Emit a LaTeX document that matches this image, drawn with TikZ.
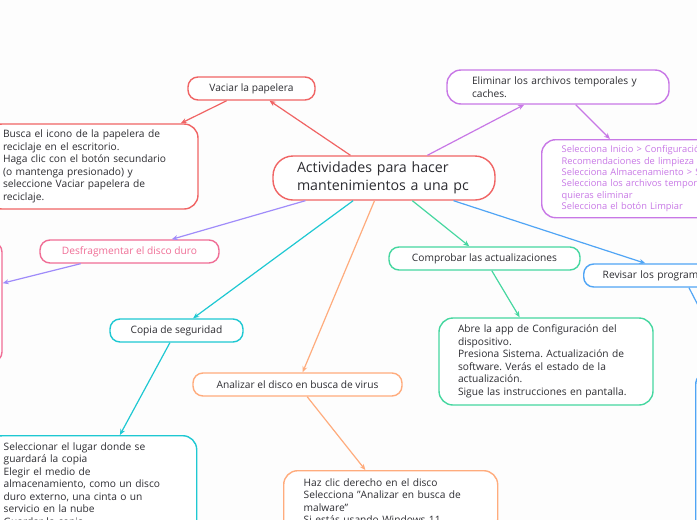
\documentclass[tikz,border=0pt]{standalone}
\usepackage{fontspec}
\setmainfont{Open Sans}
\usetikzlibrary{arrows.meta,calc}
\frenchspacing

\definecolor{fondo}{RGB}{253,253,253}
\definecolor{texto}{RGB}{45,45,50}
\definecolor{rojo}{RGB}{240,100,100}
\definecolor{morado}{RGB}{200,120,230}
\definecolor{lila}{RGB}{160,140,250}
\definecolor{rosa}{RGB}{240,110,150}
\definecolor{cian}{RGB}{30,200,210}
\definecolor{naranja}{RGB}{255,172,125}
\definecolor{verde}{RGB}{70,215,160}
\definecolor{azul}{RGB}{80,165,245}

\begin{document}
\begin{tikzpicture}[x=1pt,y=-1pt,
	caja/.style={draw, line width=1.4pt, rounded corners=10pt, fill=white, text=texto, font=\fontsize{10.2}{12.5}\selectfont},
	flecha/.style={line width=1.2pt, -{Stealth[length=6pt,width=5pt]}}]
	
	
	% Rahmen / Hintergrund
	\useasboundingbox (0,0) rectangle (697,520);
	\fill[fondo] (0,0) rectangle (697,520);
	\clip (0,0) rectangle (697,520);
	
	
	% Tema central
	\node[caja, draw=rojo, rounded corners=20pt, text width=174pt, inner xsep=24pt, minimum height=44pt, align=left, font=\fontsize{14.2}{18}\selectfont] (central) at (384,178) {Actividades para hacer\\mantenimientos a una pc};
	
	% Vaciar la papelera
	\node[caja, draw=rojo, minimum width=127pt, minimum height=23pt] (vaciar) at (251.5,88.5) {Vaciar la papelera};
	\node[caja, draw=rojo, rounded corners=14pt, text width=180pt, inner xsep=15pt, minimum height=85pt, align=left] (busca) at (93,166.5) {Busca el icono de la papelera de\\reciclaje en el escritorio.\\Haga clic con el botón secundario\\(o mantenga presionado) y\\seleccione Vaciar papelera de\\reciclaje.};
	
	% Archivos temporales
	\node[caja, draw=morado, rounded corners=14pt, text width=172pt, inner xsep=25pt, minimum height=34pt, align=left] (eliminar) at (558,87) {Eliminar los archivos temporales y\\caches.};
	\node[caja, draw=morado, text=morado, rounded corners=14pt, text width=240pt, inner xsep=20pt, minimum height=78pt, align=left, anchor=north west, font=\fontsize{9.3}{11.3}\selectfont] (selecciona) at (541,139) {Selecciona Inicio > Configuración > Sistema >\\Recomendaciones de limpieza\\Selecciona Almacenamiento > Sistema\\Selecciona los archivos temporales que\\quieras eliminar\\Selecciona el botón Limpiar};
	
	% Desfragmentar
	\node[caja, draw=rosa, text=rosa, minimum width=179pt, minimum height=23pt] (desfrag) at (129.5,251.5) {Desfragmentar el disco duro};
	\node[caja, draw=rosa, minimum width=150pt, minimum height=120pt] (desfragdet) at (-73,302) {};
	
	% Copia de seguridad
	\node[caja, draw=cian, minimum width=133pt, minimum height=23pt] (copia) at (176.5,330.5) {Copia de seguridad};
	\node[caja, draw=cian, rounded corners=14pt, text width=178pt, inner xsep=15pt, inner ysep=7pt, align=left, anchor=north west] (seleccionar) at (-12,435) {Seleccionar el lugar donde se\\guardará la copia\\Elegir el medio de\\almacenamiento, como un disco\\duro externo, una cinta o un\\servicio en la nube\\Guardar la copia};
	
	% Virus
	\node[caja, draw=naranja, minimum width=209pt, minimum height=23pt] (analizar) at (297.5,384.5) {Analizar el disco en busca de virus};
	\node[caja, draw=naranja, rounded corners=14pt, text width=174pt, inner xsep=20pt, inner ysep=8pt, align=left, anchor=north west] (haz) at (283,470) {Haz clic derecho en el disco\\Selecciona "Analizar en busca de\\malware"\\Si estás usando Windows 11,};
	
	% Actualizaciones
	\node[caja, draw=verde, minimum width=191pt, minimum height=23pt] (comprobar) at (484.5,258.5) {Comprobar las actualizaciones};
	\node[caja, draw=verde, rounded corners=14pt, text width=176pt, inner xsep=19pt, minimum height=87pt, align=left] (abre) at (546,361.5) {Abre la app de Configuración del\\dispositivo.\\Presiona Sistema. Actualización de\\software. Verás el estado de la\\actualización.\\Sigue las instrucciones en pantalla.};
	
	% Programas
	\node[caja, draw=azul, text width=160pt, inner xsep=19pt, minimum height=23pt, align=left, anchor=west] (revisar) at (583,275.5) {Revisar los programas};
	\node[caja, draw=azul, rounded corners=14pt, minimum width=200pt, minimum height=250pt, anchor=north west] (revisardet) at (695,370) {};
	
	
	% Verbindungen
	\draw[flecha, rojo] (central) -- (vaciar);
	\draw[flecha, rojo] (vaciar) -- (busca);
	\draw[flecha, morado] (central) -- (eliminar);
	\draw[flecha, morado] (eliminar) -- ($(selecciona.north west)!0.245!(selecciona.north east)$);
	\draw[flecha, lila] (central) -- (desfrag);
	\draw[flecha, lila] (desfrag) -- (desfragdet);
	\draw[flecha, cian] (central) -- (copia);
	\draw[flecha, cian] (copia) -- (seleccionar);
	\draw[flecha, naranja] (central) -- (analizar);
	\draw[flecha, naranja] (analizar) -- (haz);
	\draw[flecha, verde] (central) -- (comprobar);
	\draw[flecha, verde] (comprobar) -- (abre);
	\draw[flecha, azul] (central) -- (revisar);
	\draw[flecha, azul] (revisar) -- (revisardet);
	
	
\end{tikzpicture}
\end{document}
